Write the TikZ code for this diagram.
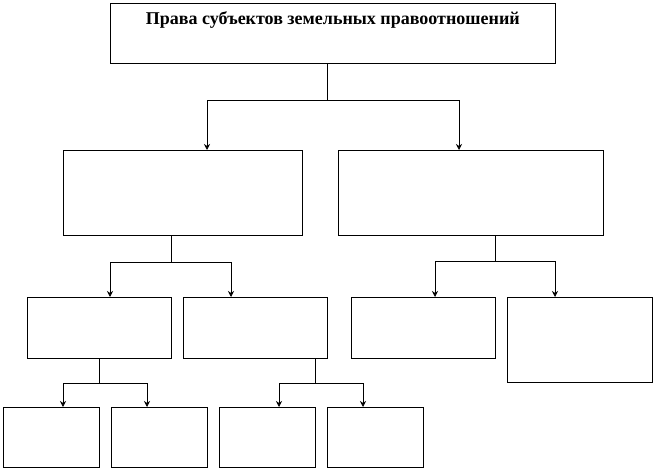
\documentclass[tikz,border=0pt]{standalone}
\usepackage{fontspec}
\setmainfont{Liberation Serif}
\usetikzlibrary{arrows.meta}
\tikzset{
  box/.style={draw=black, line width=0.7pt, fill=white, anchor=north west, inner sep=0pt},
  link/.style={draw=black, line width=0.7pt},
  arr/.style={link, -{Stealth[length=6pt,width=6pt]}},
  ttl/.style={font=\fontsize{18}{20}\selectfont\bfseries, inner sep=0pt, anchor=north}
}
\begin{document}
\begin{tikzpicture}[x=1pt,y=-1pt]
\useasboundingbox (0,0) rectangle (654,470);
% boxes
\node[box, minimum width=445pt, minimum height=60pt] (top) at (110,3) {};
\node[ttl] (title) at ([yshift=-8pt]top.north) {Права субъектов земельных правоотношений};
\node[box, minimum width=239pt, minimum height=85pt] (l1) at (63,150) {};
\node[box, minimum width=265pt, minimum height=85pt] (r1) at (338,150) {};
\node[box, minimum width=144pt, minimum height=61pt] (l2a) at (27,297) {};
\node[box, minimum width=144pt, minimum height=61pt] (l2b) at (183,297) {};
\node[box, minimum width=144pt, minimum height=61pt] (r2a) at (351,297) {};
\node[box, minimum width=145pt, minimum height=85pt] (r2b) at (507,297) {};
\node[box, minimum width=96pt, minimum height=60pt] (b1) at (3,407) {};
\node[box, minimum width=96pt, minimum height=60pt] (b2) at (111,407) {};
\node[box, minimum width=96pt, minimum height=60pt] (b3) at (219,407) {};
\node[box, minimum width=96pt, minimum height=60pt] (b4) at (327,407) {};
% connectors
\draw[link] ([xshift=217pt]top.south west) -- ++(0,37) coordinate (j0);
\draw[arr] (j0) -| ([xshift=144pt]l1.north west);
\draw[arr] (j0) -| ([xshift=121pt]r1.north west);
\draw[link] ([xshift=108pt]l1.south west) -- ++(0,27) coordinate (j1);
\draw[arr] (j1) -| ([xshift=83pt]l2a.north west);
\draw[arr] (j1) -| ([xshift=48pt]l2b.north west);
\draw[link] ([xshift=157pt]r1.south west) -- ++(0,26) coordinate (j2);
\draw[arr] (j2) -| ([xshift=84pt]r2a.north west);
\draw[arr] (j2) -| ([xshift=48pt]r2b.north west);
\draw[link] ([xshift=72pt]l2a.south west) -- ++(0,25) coordinate (j3);
\draw[arr] (j3) -| ([xshift=60pt]b1.north west);
\draw[arr] (j3) -| ([xshift=36pt]b2.north west);
\draw[link] ([xshift=132pt]l2b.south west) -- ++(0,25) coordinate (j4);
\draw[arr] (j4) -| ([xshift=60pt]b3.north west);
\draw[arr] (j4) -| ([xshift=36pt]b4.north west);
\end{tikzpicture}
\end{document}
